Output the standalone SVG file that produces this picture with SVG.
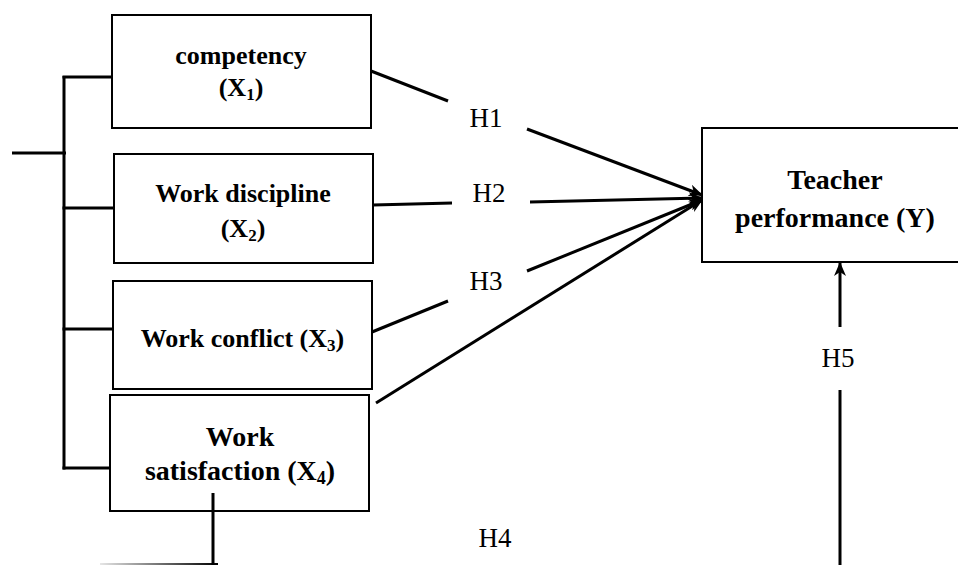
<svg xmlns="http://www.w3.org/2000/svg" width="958" height="565" viewBox="0 0 958 565">
  <style>
    .box { fill: none; stroke: #000; stroke-width: 2; }
    .ln { fill: none; stroke: #000; stroke-width: 3; }
    .bt { font-weight: bold; font-size: 26px; fill: #000; text-anchor: middle; }
    .bt28 { font-size: 28px; }
    .hl { font-size: 27px; fill: #000; text-anchor: middle; }
  </style>
  <defs>
    <marker id="arr" viewBox="0 0 14 12" refX="13" refY="6" markerWidth="14" markerHeight="12" markerUnits="userSpaceOnUse" orient="auto">
      <path d="M0,0 L14,6 L0,12 L4,6 z" fill="#000"/>
    </marker>
    <linearGradient id="fade" gradientUnits="userSpaceOnUse" x1="100" y1="0" x2="218" y2="0">
      <stop offset="0" stop-color="#000" stop-opacity="0.1"/>
      <stop offset="1" stop-color="#000" stop-opacity="1"/>
    </linearGradient>
  </defs>

  <g id="connectors">
    <line class="ln" x1="64" y1="76" x2="64" y2="469.5"/>
    <line class="ln" x1="12" y1="153" x2="66" y2="153"/>
    <line class="ln" x1="62.5" y1="77" x2="112" y2="77"/>
    <line class="ln" x1="62.5" y1="208" x2="114" y2="208"/>
    <line class="ln" x1="62.5" y1="329" x2="113" y2="329"/>
    <line class="ln" x1="62.5" y1="468" x2="110" y2="468"/>
    <line class="ln" x1="371" y1="71" x2="448" y2="101"/>
    <line class="ln" x1="527" y1="129" x2="702" y2="195" marker-end="url(#arr)"/>
    <line class="ln" x1="373" y1="205" x2="452" y2="203"/>
    <line class="ln" x1="530" y1="202" x2="702" y2="198" marker-end="url(#arr)"/>
    <line class="ln" x1="372" y1="332" x2="448" y2="301"/>
    <line class="ln" x1="527" y1="271" x2="702" y2="200" marker-end="url(#arr)"/>
    <line class="ln" x1="376" y1="403" x2="702" y2="200" marker-end="url(#arr)"/>
    <line class="ln" x1="840" y1="327" x2="840" y2="263" marker-end="url(#arr)"/>
    <line class="ln" x1="840" y1="390" x2="840" y2="565"/>
    <line class="ln" x1="213" y1="493" x2="213" y2="565"/>
    <line x1="100" y1="564" x2="218" y2="564" stroke="url(#fade)" stroke-width="2"/>
  </g>

  <g id="labels" font-family="Liberation Serif, Times New Roman, serif">
    <text class="hl" x="486" y="127">H1</text>
    <text class="hl" x="489" y="202">H2</text>
    <text class="hl" x="486" y="290">H3</text>
    <text class="hl" x="495" y="547">H4</text>
    <text class="hl" x="838" y="367">H5</text>
  </g>

  <g id="node-x1" font-family="Liberation Serif, Times New Roman, serif">
    <rect class="box" x="112" y="15" width="259" height="113"/>
    <text class="bt" x="241" y="64">competency</text>
    <text class="bt" x="241" y="96">(X<tspan font-size="17" dy="4">1</tspan><tspan dy="-4">)</tspan></text>
  </g>

  <g id="node-x2" font-family="Liberation Serif, Times New Roman, serif">
    <rect class="box" x="114" y="154" width="259" height="109"/>
    <text class="bt" x="243" y="202">Work discipline</text>
    <text class="bt" x="243" y="237">(X<tspan font-size="17" dy="4">2</tspan><tspan dy="-4">)</tspan></text>
  </g>

  <g id="node-x3" font-family="Liberation Serif, Times New Roman, serif">
    <rect class="box" x="113" y="281" width="259" height="108"/>
    <text class="bt" x="242.5" y="347">Work conflict (X<tspan font-size="17" dy="4">3</tspan><tspan dy="-4">)</tspan></text>
  </g>

  <g id="node-x4" font-family="Liberation Serif, Times New Roman, serif">
    <rect class="box" x="110" y="395" width="259" height="116"/>
    <text class="bt bt28" x="240" y="446">Work</text>
    <text class="bt bt28" x="240" y="480">satisfaction (X<tspan font-size="18" dy="4">4</tspan><tspan dy="-4">)</tspan></text>
  </g>

  <g id="node-y" font-family="Liberation Serif, Times New Roman, serif">
    <rect class="box" x="702" y="128" width="300" height="134"/>
    <text class="bt bt28" x="835" y="189">Teacher</text>
    <text class="bt bt28" x="835" y="227">performance (Y)</text>
  </g>
</svg>
